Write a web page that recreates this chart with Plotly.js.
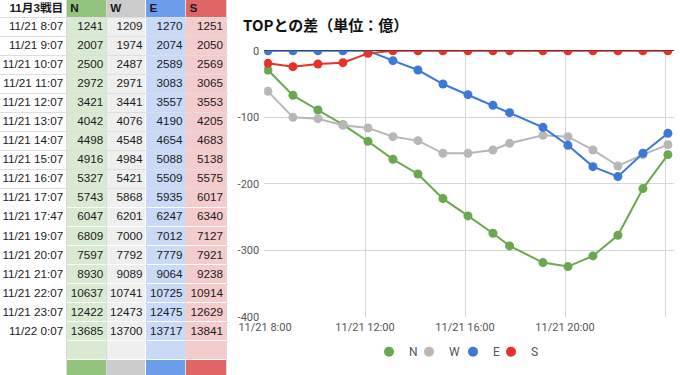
<!DOCTYPE html>
<html><head><meta charset="utf-8">
<script src="https://cdn.plot.ly/plotly-3.0.1.min.js"></script>
<style>html,body{margin:0;padding:0;background:#fff;overflow:hidden;} #chart{width:680px;height:375px;}</style>
</head><body><div id="chart"></div>
<script>
// ---- data ----
const tableTitle = '11月3戦目';
const seriesNames = ['N', 'W', 'E', 'S'];
const timeLabels = ['11/21 8:07','11/21 9:07','11/21 10:07','11/21 11:07','11/21 12:07','11/21 13:07','11/21 14:07','11/21 15:07','11/21 16:07','11/21 17:07','11/21 17:47','11/21 19:07','11/21 20:07','11/21 21:07','11/21 22:07','11/21 23:07','11/22 0:07'];
const valuesN = [1241,2007,2500,2972,3421,4042,4498,4916,5327,5743,6047,6809,7597,8930,10637,12422,13685];
const valuesW = [1209,1974,2487,2971,3441,4076,4548,4984,5421,5868,6201,7000,7792,9089,10741,12473,13700];
const valuesE = [1270,2074,2589,3083,3557,4190,4654,5088,5509,5935,6247,7012,7779,9064,10725,12475,13717];
const valuesS = [1251,2050,2569,3065,3553,4205,4683,5138,5575,6017,6340,7127,7921,9238,10914,12629,13841];
const chartTitle = 'TOPとの差（単位：億）';
const year = 2023;
const xTickVals = ['2023-11-21 08:00','2023-11-21 12:00','2023-11-21 16:00','2023-11-21 20:00','2023-11-22 00:00'];
const xTickText = ['11/21 8:00','11/21 12:00','11/21 16:00','11/21 20:00',''];
const yTickVals = [0, -100, -200, -300, -400];
const yTickText = ['0', '-100', '-200', '-300', '-400'];

// ---- styles ----
const lineColors = ['#6aa84f', '#b7b7b7', '#3c78d8', '#e8312a'];
// cell colour codes: 0 white, 1-4 light column colours, 5-8 strong column colours
const cellPalette = ['#ffffff', '#d9ead3', '#efefef', '#c9daf8', '#f4cccc', '#93c47d', '#cccccc', '#6d9eeb', '#e06666'];
const colEdges = [0, 66.7, 106.6, 146, 185.8, 226.5];   // table column boundaries (px)
const headerH = 17.5, rowH = 19.05;                     // table row sizes (px)
const padR = 3.4, padL = 3.6;
const tableFont = 'Liberation Sans, Arial, Noto Sans CJK JP, sans-serif';
const chartFont = 'Roboto, Arial, sans-serif';
const legendLeft = [369, 409, 453, 491];                // px of each legend box

// ---- derived ----
const series = [valuesN, valuesW, valuesE, valuesS];
function toDate(lbl) {
  const [md, hm] = lbl.split(' ');
  const [m, d] = md.split('/');
  const [h, mi] = hm.split(':');
  const p = s => String(s).padStart(2, '0');
  return `${year}-${p(m)}-${p(d)} ${p(h)}:${p(mi)}`;
}
const xs = timeLabels.map(toDate);
const tops = timeLabels.map((_, i) => Math.max(...series.map(s => s[i])));
const diffs = series.map(s => s.map((v, i) => v - tops[i]));

// table grid
const nBody = timeLabels.length + 1;  // data rows + one empty row
const yEdges = [0, headerH];
for (let k = 1; k <= nBody; k++) yEdges.push(headerH + k * rowH);
yEdges.push(headerH + (nBody + 1) * rowH);
const zCells = [[0, 5, 6, 7, 8]];
for (let k = 0; k < nBody; k++) zCells.push([0, 1, 2, 3, 4]);
zCells.push([0, 5, 6, 7, 8]);
const cScale = cellPalette.map((c, i) => [i / (cellPalette.length - 1), c]);
const rowCenter = i => headerH + (i + 0.5) * rowH;

const traces = [];
traces.push({
  type: 'heatmap', xaxis: 'x2', yaxis: 'y2',
  x: colEdges, y: yEdges, z: zCells,
  zmin: 0, zmax: cellPalette.length - 1, colorscale: cScale, showscale: false,
  xgap: 1, ygap: 1, hoverinfo: 'skip'
});
// body text
const bx = [], by = [], bt = [];
timeLabels.forEach((lbl, i) => { bx.push(colEdges[1] - padR); by.push(rowCenter(i)); bt.push(lbl); });
series.forEach((s, k) => s.forEach((v, i) => { bx.push(colEdges[k + 2] - padR); by.push(rowCenter(i)); bt.push(String(v)); }));
traces.push({
  type: 'scatter', mode: 'text', xaxis: 'x2', yaxis: 'y2',
  x: bx, y: by, text: bt, textposition: 'middle left', cliponaxis: false,
  textfont: {family: tableFont, size: 11.7, color: '#1a1a1a'}, hoverinfo: 'skip', showlegend: false
});
// header text
traces.push({
  type: 'scatter', mode: 'text', xaxis: 'x2', yaxis: 'y2',
  x: [colEdges[1] - padR].concat(seriesNames.map((_, k) => colEdges[k + 1] + padL)),
  y: [0, 0, 0, 0, 0].map(() => headerH / 2),
  text: [tableTitle].concat(seriesNames).map(t => '<b>' + t + '</b>'),
  textposition: ['middle left', 'middle right', 'middle right', 'middle right', 'middle right'],
  cliponaxis: false,
  textfont: {family: tableFont, size: 11.7, color: '#1a1a1a'}, hoverinfo: 'skip', showlegend: false
});

// chart lines
seriesNames.forEach((n, k) => {
  traces.push({
    type: 'scatter', mode: 'lines+markers', name: n,
    x: xs, y: diffs[k],
    line: {color: lineColors[k], width: 2},
    marker: {color: lineColors[k], size: 9},
    showlegend: false, hoverinfo: 'skip'
  });
});
// legend dots (one legend per entry)
const legendIds = ['legend', 'legend2', 'legend3', 'legend4'];
seriesNames.forEach((n, k) => {
  traces.push({
    type: 'scatter', mode: 'markers', name: n,
    x: [null], y: [null],
    marker: {color: lineColors[k], size: 10},
    showlegend: true, legend: legendIds[k], hoverinfo: 'skip'
  });
});

const layout = {
  width: 680, height: 375,
  margin: {l: 0, r: 0, t: 0, b: 0, autoexpand: false},
  paper_bgcolor: '#ffffff', plot_bgcolor: 'rgba(0,0,0,0)',
  font: {family: chartFont, size: 11, color: '#444'},
  hovermode: false,
  title: {
    text: chartTitle, x: 243/680, xanchor: 'left', xref: 'paper',
    y: 1 - 25.8/375, yanchor: 'middle', yref: 'paper',
    font: {family: 'Noto Sans CJK JP, sans-serif', size: 15, color: '#111', weight: 700}
  },
  showlegend: true,
  xaxis: {
    type: 'date', domain: [264.2/680, 674/680],
    range: ['2023-11-21 07:58', '2023-11-22 00:21:36'],
    tickmode: 'array', tickvals: xTickVals, ticktext: xTickText,
    showgrid: true, gridcolor: '#d6d6d6', gridwidth: 1,
    zeroline: false, showline: false, ticks: '', ticklabelstandoff: 2,
    tickfont: {family: chartFont, size: 11, color: '#555'},
    fixedrange: true
  },
  yaxis: {
    domain: [1 - 317.2/375, 1 - 50.7/375], range: [-400, 0],
    tickmode: 'array', tickvals: yTickVals, ticktext: yTickText,
    showgrid: true, gridcolor: '#d6d6d6', gridwidth: 1,
    zeroline: true, zerolinecolor: '#333', zerolinewidth: 1.5,
    showline: false, ticks: '', ticklabelstandoff: 4,
    tickfont: {family: chartFont, size: 11, color: '#555'},
    fixedrange: true
  },
  xaxis2: {
    domain: [0, 228/680], range: [0, 228], anchor: 'y2',
    tickmode: 'array', tickvals: colEdges.slice(1), showticklabels: false,
    showgrid: true, gridcolor: '#dadada', zeroline: false, showline: false, ticks: '', fixedrange: true
  },
  yaxis2: {
    domain: [0, 1], range: [375, 0], anchor: 'x2',
    tickmode: 'array', tickvals: yEdges.slice(1), showticklabels: false,
    showgrid: true, gridcolor: '#dedede', zeroline: false, showline: false, ticks: '', fixedrange: true
  }
};
legendIds.forEach((id, k) => {
  layout[id] = {
    orientation: 'h', x: legendLeft[k] / 680, xanchor: 'left', y: 1 - 351.7/375, yanchor: 'middle',
    font: {family: chartFont, size: 12, color: '#555'}, bgcolor: 'rgba(0,0,0,0)'
  };
});

Plotly.newPlot('chart', traces, layout, {displayModeBar: false, staticPlot: true});
</script>
</body></html>
